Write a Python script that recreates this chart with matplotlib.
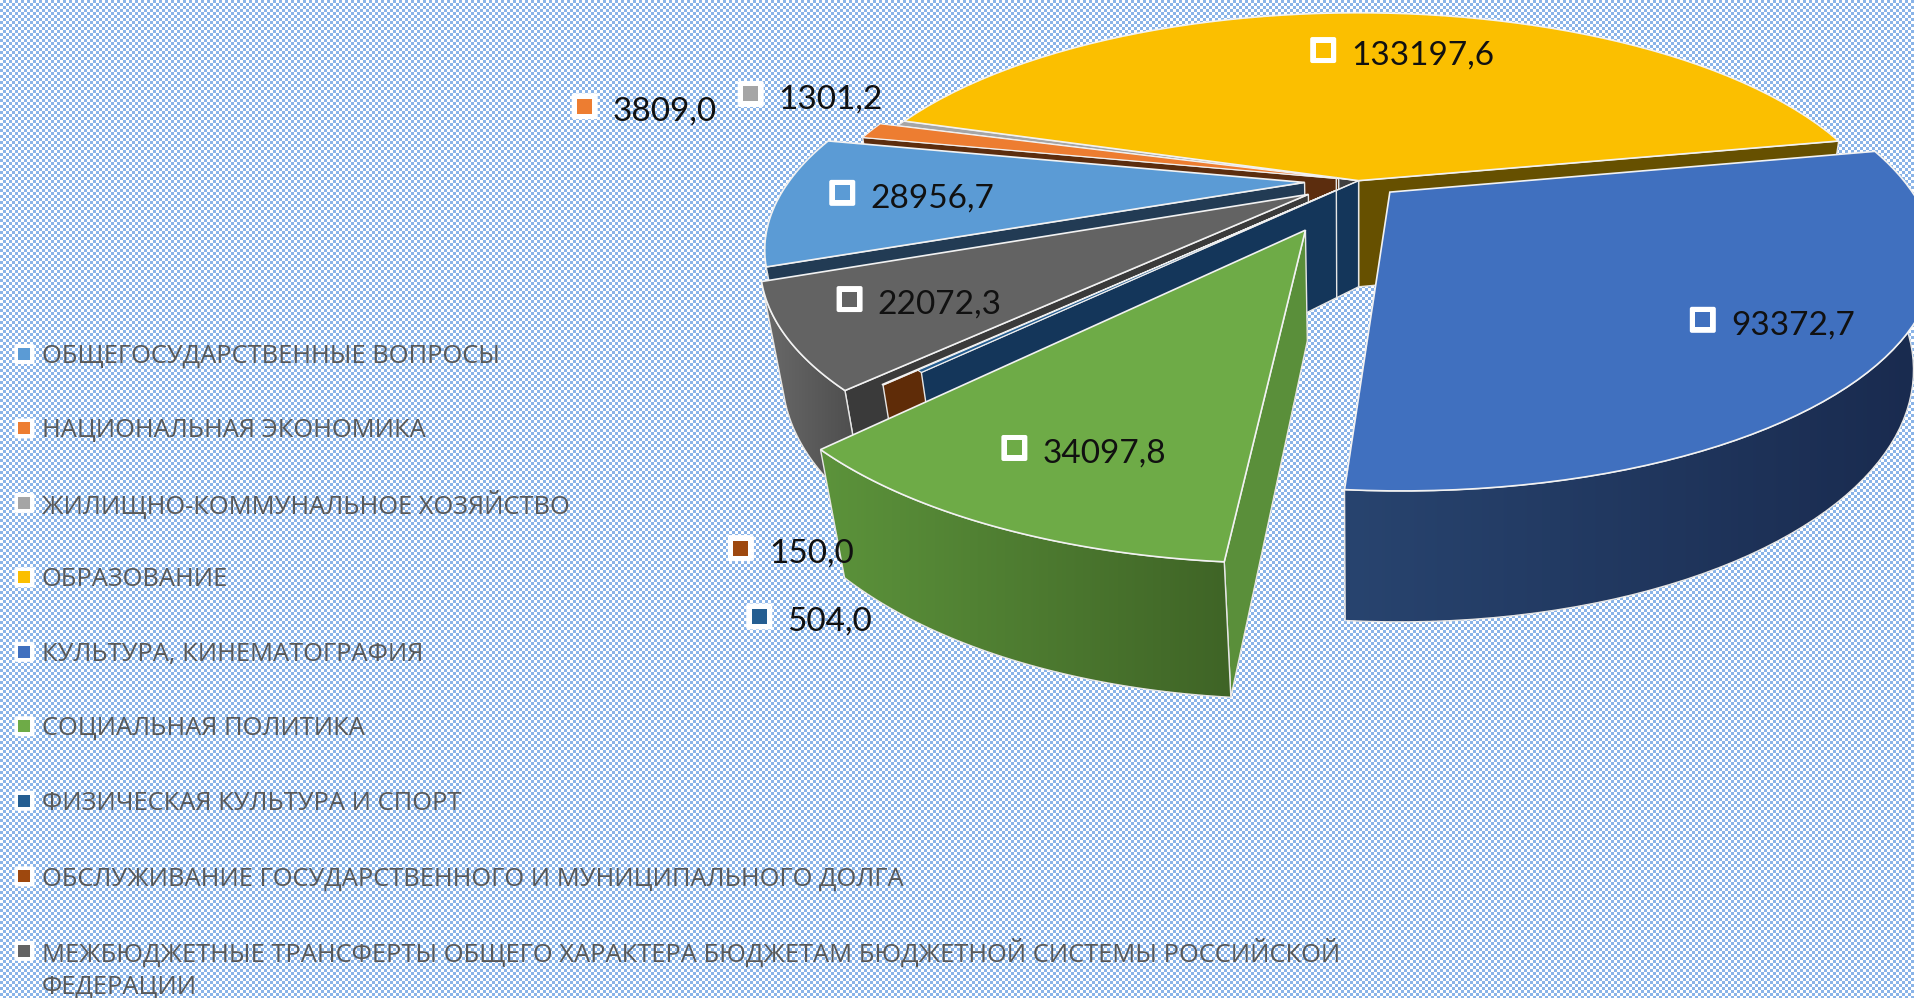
import numpy as np
import matplotlib
matplotlib.use('Agg')
import matplotlib.pyplot as plt
from matplotlib.colors import LinearSegmentedColormap
from matplotlib.patches import Polygon, Rectangle, FancyBboxPatch

categories = ['ОБЩЕГОСУДАРСТВЕННЫЕ ВОПРОСЫ', 'НАЦИОНАЛЬНАЯ ЭКОНОМИКА',
              'ЖИЛИЩНО-КОММУНАЛЬНОЕ ХОЗЯЙСТВО', 'ОБРАЗОВАНИЕ',
              'КУЛЬТУРА, КИНЕМАТОГРАФИЯ', 'СОЦИАЛЬНАЯ ПОЛИТИКА',
              'ФИЗИЧЕСКАЯ КУЛЬТУРА И СПОРТ',
              'ОБСЛУЖИВАНИЕ ГОСУДАРСТВЕННОГО И МУНИЦИПАЛЬНОГО ДОЛГА',
              'МЕЖБЮДЖЕТНЫЕ ТРАНСФЕРТЫ ОБЩЕГО ХАРАКТЕРА БЮДЖЕТАМ БЮДЖЕТНОЙ СИСТЕМЫ РОССИЙСКОЙ\nФЕДЕРАЦИИ']
values = [28956.7, 3809.0, 1301.2, 133197.6, 93372.7, 34097.8, 504.0, 150.0, 22072.3]
value_labels = ['28956,7', '3809,0', '1301,2', '133197,6', '93372,7', '34097,8', '504,0', '150,0', '22072,3']
colors = ['#5b9bd5', '#ed7d31', '#a5a5a5', '#fbbf00', '#4070bf', '#6eab47', '#255e91', '#9e480e', '#636363']
wall_colors = ['#223b54', '#5c2d0e', '#404040', '#665000', '#1a2d50', '#5a8f3a', '#14365a', '#5f2c08', '#3a3a3a']
explode = [0.105, 0.04, 0.0, 0.0, 0.08, 0.24, 0.0, 0.0627, 0.115]

# label spots, read in the 1568 wide copy of the picture
label_marks = [(690, 158), (479, 87), (615, 77), (1084, 41), (1395, 262), (831, 367), (622, 505), (607, 449), (696, 245)]
legend_y = [290, 351, 412, 473, 534, 595, 656, 718, 779]

SC = 1914 / 1568
first_angle = 249
# view of the tilted pie
CX, CY = 1113 * SC, 148 * SC
RX, RY, DROP = 422 * SC, 174 * SC, 90 * SC
K, KZ = 0.265, 0.035

def project(x, y, z):
    d = 1 + K * y - KZ * z
    return CX + RX * x / d, CY - (RY * y + DROP * z) / d

angles = np.cumsum([0] + values) / sum(values) * 360 + first_angle
starts = angles[:-1]
ends = angles[1:]

def apex(i):
    mid = np.radians((starts[i] + ends[i]) / 2)
    return explode[i] * np.sin(mid), explode[i] * np.cos(mid)

def rim(i, a, z=0):
    ax0, ay0 = apex(i)
    a = np.radians(a)
    return project(ax0 + np.sin(a), ay0 + np.cos(a), z)

def arc(i, z=0, n=60):
    return [rim(i, a, z) for a in np.linspace(starts[i], ends[i], n)]

def top_face(i, lw=1.2):
    ax0, ay0 = apex(i)
    pts = [project(ax0, ay0, 0)] + arc(i)
    ax.add_patch(Polygon(pts, closed=True, fc=colors[i], ec='#f2f2f2', lw=lw))

def side_wall(i, a, color=None):
    ax0, ay0 = apex(i)
    pts = [project(ax0, ay0, 0), rim(i, a, 0), rim(i, a, -1), project(ax0, ay0, -1)]
    ax.add_patch(Polygon(pts, closed=True, fc=color or wall_colors[i], ec='#e6e6e6', lw=1))

def outer_wall(i, left, right):
    pts = arc(i, 0) + arc(i, -1)[::-1]
    poly = Polygon(pts, closed=True, fc='none', ec='#e6e6e6', lw=1, transform=ax.transData)
    xs = [p[0] for p in pts]
    ys = [p[1] for p in pts]
    cmap = LinearSegmentedColormap.from_list('w', [left, right])
    im = ax.imshow(np.linspace(0, 1, 256).reshape(1, -1), cmap=cmap, aspect='auto', zorder=1,
                   extent=(min(xs), max(xs), max(ys), min(ys)))
    ax.add_patch(poly)
    im.set_clip_path(poly)

# checker background, 3 px cells
yy, xx = np.mgrid[0:998, 0:1914]
check = ((xx // 3 + yy // 3) % 2)[..., None]
bg = check * np.array([138, 180, 232]) + (1 - check) * np.array([255, 255, 255])

fig = plt.figure(figsize=(19.14, 9.98), dpi=100)
fig.figimage(bg.astype(np.uint8), 0, 0, zorder=-1, origin='upper')
ax = fig.add_axes([0, 0, 1, 1])
ax.patch.set_alpha(0)
ax.axis('off')

# back to front
side_wall(2, starts[2])
top_face(2, 0.8)
side_wall(3, ends[3])
top_face(3)
side_wall(1, starts[1])
top_face(1, 0.8)
side_wall(0, starts[0])
top_face(0)
side_wall(8, starts[8])
outer_wall(8, '#6a6a6a', '#4a4a4a')
top_face(8)
side_wall(7, starts[7])
top_face(7, 0.8)
side_wall(6, starts[6])
top_face(6, 0.8)
# vertical seam in the dark walls
ax0, ay0 = apex(7)
p0 = project(ax0, ay0 + 0.06, 0)
p1 = project(ax0, ay0, -1)
ax.plot([p0[0], p1[0]], [p0[1], p1[1]], color='#e6e6e6', lw=1)
side_wall(5, starts[5])
outer_wall(5, '#5c933b', '#3f6426')
top_face(5)
outer_wall(4, '#28446f', '#192a4e')
top_face(4)

def mark(cx, cy, color, outer, inner):
    ax.add_patch(FancyBboxPatch((cx - outer / 2 + 2, cy - outer / 2 + 2), outer - 4, outer - 4,
                                boxstyle='round,pad=2', fc='white', ec='none'))
    ax.add_patch(Rectangle((cx - inner / 2, cy - inner / 2), inner, inner, fc=color, ec='none'))

for (mx, my), txt, c in zip(label_marks, value_labels, colors):
    mark(mx * SC, my * SC, c, 26, 15)
    ax.text((mx + 23) * SC, (my + 4.5) * SC, txt, fontsize=24, color='#111111',
            family='Lato', ha='left', va='center')

for ly, name, c in zip(legend_y, categories, colors):
    mark(20 * SC, ly * SC, c, 20, 12)
    va_y = (ly + 2) * SC
    if '\n' in name:
        va_y = (ly + 15) * SC
    ax.text(34 * SC, va_y, name, fontsize=18.4, color='#595959', family='Open Sans',
            ha='left', va='center', linespacing=1.4)

ax.set_xlim(0, 1914)
ax.set_ylim(998, 0)
fig.savefig('out.png', dpi=100)
